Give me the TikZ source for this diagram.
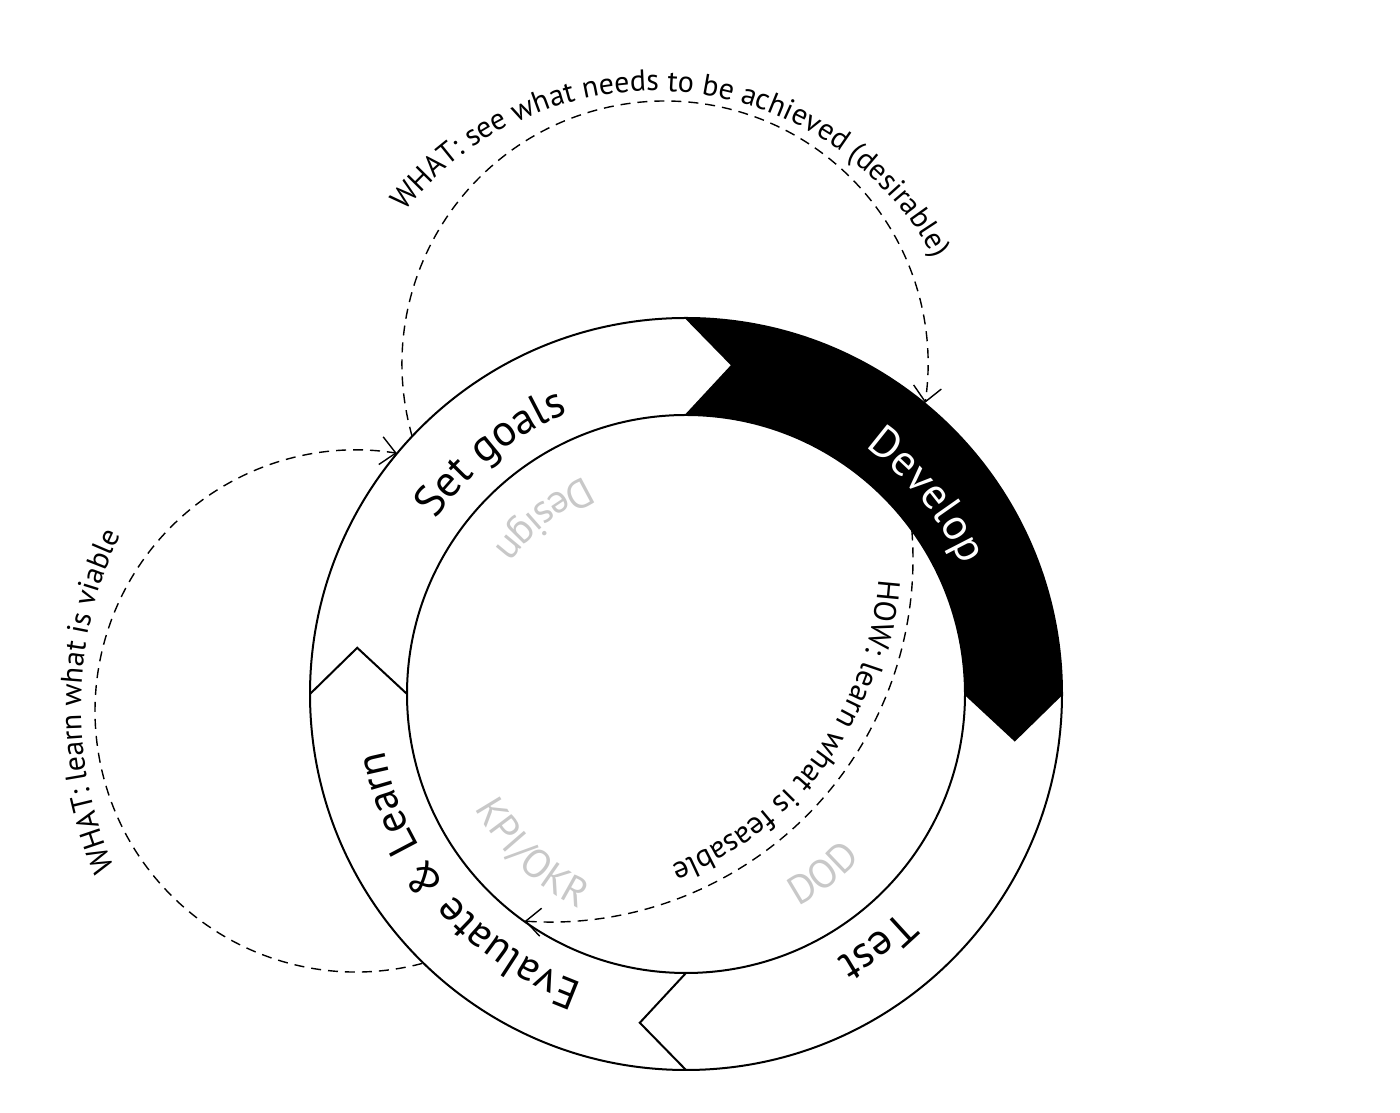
\documentclass[tikz,border=0pt]{standalone}
\usepackage{fontspec}
\setmainfont{PT Sans}
\usetikzlibrary{arrows.meta,decorations.text,calc}
\definecolor{lightgraytext}{RGB}{200,200,200}
\begin{document}
\begin{tikzpicture}[x=1pt,y=1pt,
  ringline/.style={line width=2pt, line join=miter},
  flowarc/.style={line width=1.4pt, dash pattern=on 10pt off 7pt,
    -{Straight Barb[length=15pt,width=28pt,line width=1.4pt]}},
  curvetext/.style={decorate, decoration={text along path, text align=center, #1}}
]
\useasboundingbox (0,0) rectangle (1400,1113);
\coordinate (C) at (686,419);
\coordinate (TopC) at (665,749);
\coordinate (LeftC) at (356,402);
\coordinate (HowC) at (550,554);
\coordinate (TopTxtC) at (654,704);
\coordinate (LeftTxtC) at (479,405);

% black Develop segment
\fill[black] ($(C)+(90:376pt)$) arc[start angle=90,end angle=0,radius=376pt]
  -- ($(C)+(-8:332pt)$) -- ($(C)+(0:279pt)$)
  arc[start angle=0,end angle=90,radius=279pt]
  -- ($(C)+(82:332pt)$) -- cycle;

% ring
\draw[ringline] (C) circle[radius=376pt];
\draw[ringline] (C) circle[radius=279pt];
\foreach \a in {90,0,-90,180}{
  \draw[ringline] ($(C)+(\a:376pt)$) -- ($(C)+(\a-8:332pt)$) -- ($(C)+(\a:279pt)$);
}

% ring labels
\path[curvetext={text={|\fontsize{44}{50}\selectfont|Set goals}}]
  ($(C)+(169:305pt)$) arc[start angle=169,end angle=89,radius=305pt];
\path[curvetext={text color=white, text={|\fontsize{44}{50}\selectfont|Develop}}]
  ($(C)+(79.5:305pt)$) arc[start angle=79.5,end angle=-0.5,radius=305pt];
\path[curvetext={text={|\fontsize{44}{50}\selectfont|Test}}]
  ($(C)+(-12.8:305pt)$) arc[start angle=-12.8,end angle=-92.8,radius=305pt];
\path[curvetext={text={|\fontsize{43}{50}\selectfont|Evaluate {\&} Learn}}]
  ($(C)+(275.4:307pt)$) arc[start angle=275.4,end angle=165.4,radius=307pt];

% inner gray labels
\path[curvetext={text color=lightgraytext, text={|\fontsize{40}{46}\selectfont|Design}}]
  ($(C)+(99:240pt)$) arc[start angle=99,end angle=159,radius=240pt];
\path[curvetext={text color=lightgraytext, text={|\fontsize{40}{46}\selectfont|KPI/OKR}}]
  ($(C)+(196:240pt)$) arc[start angle=196,end angle=256,radius=240pt];
\path[curvetext={text color=lightgraytext, text={|\fontsize{40}{46}\selectfont|DOD}}]
  ($(C)+(-82.7:240pt)$) arc[start angle=-82.7,end angle=-22.7,radius=240pt];

% dashed flows
\coordinate (topStart) at ($(TopC)+(196:263pt)$);
\coordinate (leftStart) at ($(LeftC)+(-75.3:261pt)$);
\coordinate (howStart) at ($(HowC)+(4.5:363pt)$);
\draw[flowarc] (topStart) arc[start angle=196,end angle=-8.5,radius=263pt];
\draw[flowarc] (leftStart) arc[start angle=-75.3,end angle=-279,radius=261pt];
\draw[flowarc] (howStart) arc[start angle=4.5,end angle=-94,radius=363pt];

% flow labels
\path[curvetext={text={|\fontsize{30}{36}\selectfont|WHAT: see what needs to be achieved (desirable)}}]
  ($(TopTxtC)+(165:318pt)$) arc[start angle=165,end angle=5,radius=318pt];
\path[curvetext={text={|\fontsize{30}{36}\selectfont|WHAT: learn what is viable}}]
  ($(LeftTxtC)+(239:398pt)$) arc[start angle=239,end angle=119,radius=398pt];
\path[curvetext={text={|\fontsize{31}{36}\selectfont|HOW: learn what is feasable}}]
  ($(HowC)+(24:329pt)$) arc[start angle=24,end angle=-96,radius=329pt];
\end{tikzpicture}
\end{document}
